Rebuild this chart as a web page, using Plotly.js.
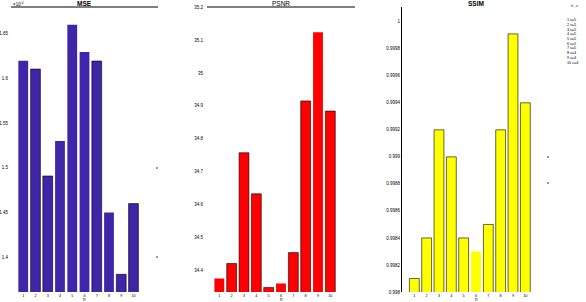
<!DOCTYPE html>
<html>
<head>
<meta charset="utf-8">
<script src="https://cdn.plot.ly/plotly-3.0.1.min.js"></script>
<style>html,body{margin:0;padding:0;background:#fff;}#chart{width:586px;height:302px;}</style>
</head>
<body>
<div id="chart"></div>
<script>
// ---- data ----
const nValues = [1, 2, 3, 4, 5, 6, 7, 8, 9, 10];
const nLabels = ['1', '2', '3', '4', '5', '6', '7', '8', '9', '10'];
const mseValues = [1.6197e-4, 1.6104e-4, 1.4907e-4, 1.5298e-4, 1.6601e-4, 1.6295e-4, 1.6194e-4, 1.4497e-4, 1.3806e-4, 1.4598e-4];
const psnrValues = [34.374, 34.420, 34.757, 34.632, 34.347, 34.359, 34.453, 34.915, 35.124, 34.884];
const ssimValues = [0.99810, 0.99840, 0.99920, 0.99900, 0.99840, 0.99830, 0.99850, 0.99920, 0.99991, 0.99940];
const mseTicks = [1.4, 1.45, 1.5, 1.55, 1.6, 1.65];
const mseTickLabels = ['1.4', '1.45', '1.5', '1.55', '1.6', '1.65'];
const psnrTicks = [34.4, 34.5, 34.6, 34.7, 34.8, 34.9, 35, 35.1, 35.2];
const psnrTickLabels = ['34.4', '34.5', '34.6', '34.7', '34.8', '34.9', '35', '35.1', '35.2'];
const ssimTicks = [0.998, 0.9982, 0.9984, 0.9986, 0.9988, 0.999, 0.9992, 0.9994, 0.9996, 0.9998, 1];
const ssimTickLabels = ['0.998', '0.9982', '0.9984', '0.9986', '0.9988', '0.999', '0.9992', '0.9994', '0.9996', '0.9998', '1'];
const legendHeader = 'n , ε';
const legendLines = ['1 ε=5', '2 ε=5', '3 ε=5', '4 ε=5', '5 ε=5', '6 ε=5', '7 ε=5', '8 ε=4', '9 ε=4', '10 ε=4'];

// ---- styling ----
const W = 586, H = 302;
const mseEdge = [0, 1, 1, 0, 0, 0, 1, 0, 1, 1];
const psnrEdge = [0, 1, 1, 1, 1, 0, 1, 1, 0, 1];
const ssimEdge = [1, 1, 1, 1, 1, 0, 1, 1, 1, 1];
const px = v => v / W;
const py = v => 1 - v / H;
const yDom = [py(292), py(7)];
const font = {family: 'Liberation Sans, Arial, sans-serif', color: '#000'};

function bar(x, y, color, edge, xa, ya) {
  return {
    type: 'bar', x: x, y: y, width: 0.8, xaxis: xa, yaxis: ya,
    marker: {color: color, line: {color: '#000', width: edge.map(e => e ? 0.6 : 0)}},
    hoverinfo: 'x+y', showlegend: false
  };
}

const traces = [
  bar(nValues, mseValues.map(v => v * 1e4), 'rgb(62,38,168)', mseEdge, 'x', 'y'),
  bar(nValues, psnrValues, 'rgb(255,0,0)', psnrEdge, 'x2', 'y2'),
  bar(nValues, ssimValues, 'rgb(255,255,0)', ssimEdge, 'x3', 'y3')
];

function xAxis(dom, anchor) {
  return {
    domain: dom, anchor: anchor, range: [0, 12], tickmode: 'array', tickvals: nValues, ticktext: nLabels,
    ticks: '', ticklabelstandoff: 0,
    showgrid: false, zeroline: false, showline: false,
    tickfont: Object.assign({size: 3.8}, font), fixedrange: true
  };
}
function yAxis(range, tv, tt, anchor, showline) {
  return {
    domain: yDom, anchor: anchor, range: range, tickmode: 'array', tickvals: tv, ticktext: tt,
    ticks: '', showgrid: false, zeroline: false, showline: showline, linecolor: '#000', linewidth: 1.2,
    tickfont: Object.assign({size: 4.5}, font), fixedrange: true
  };
}

const titleFont = Object.assign({size: 6.5}, font);
const smallFont = Object.assign({size: 4.5}, font);
const legFont = Object.assign({size: 3.8}, font);
function note(text, x, y, f, xanchor) {
  return {text: text, x: px(x), y: py(y), xref: 'paper', yref: 'paper', xanchor: xanchor || 'center', yanchor: 'middle',
          borderpad: 0, showarrow: false, font: f};
}
const ann = [
  note('<b>MSE</b>', 84.5, 3.5, titleFont),
  note('PSNR', 281, 3.5, titleFont),
  note('<b>SSIM</b>', 476, 3.5, titleFont),
  note('×10<sup>-4</sup>', 18, 3.5, smallFont),
  note('n', 84.5, 299, smallFont),
  note('n', 281, 299, smallFont),
  note('n', 476, 299, smallFont),
  note(legendHeader, 570, 6, legFont, 'left')
];
legendLines.forEach((t, i) => {
  ann.push(note(t, 566, 20 + i * 4.75, legFont, 'left'));
});

const shapes = [
  {type: 'line', xref: 'paper', yref: 'paper', x0: px(11), x1: px(158), y0: py(7), y1: py(7), line: {color: '#000', width: 1}},
  {type: 'line', xref: 'paper', yref: 'paper', x0: px(207), x1: px(355), y0: py(7), y1: py(7), line: {color: '#000', width: 1}},
  {type: 'line', xref: 'paper', yref: 'paper', x0: px(156), x1: px(158), y0: py(168), y1: py(168), line: {color: '#000', width: 0.8}},
  {type: 'line', xref: 'paper', yref: 'paper', x0: px(156), x1: px(158), y0: py(257), y1: py(257), line: {color: '#000', width: 0.8}},
  {type: 'line', xref: 'paper', yref: 'paper', x0: px(547), x1: px(549), y0: py(157), y1: py(157), line: {color: '#000', width: 0.8}},
  {type: 'line', xref: 'paper', yref: 'paper', x0: px(547), x1: px(549), y0: py(183), y1: py(183), line: {color: '#000', width: 0.8}}
];

const layout = {
  width: W, height: H, margin: {l: 0, r: 0, t: 0, b: 0}, paper_bgcolor: '#fff', plot_bgcolor: 'rgba(0,0,0,0)',
  showlegend: false, font: font,
  xaxis: xAxis([px(11), px(158)], 'y'),
  yaxis: yAxis([1.3608, 1.6799], mseTicks, mseTickLabels, 'x', false),
  xaxis2: xAxis([px(207), px(355)], 'y2'),
  yaxis2: yAxis([34.333, 35.201], psnrTicks, psnrTickLabels, 'x2', false),
  xaxis3: xAxis([px(402), px(550)], 'y3'),
  yaxis3: yAxis([0.998, 1.000109], ssimTicks, ssimTickLabels, 'x3', true),
  annotations: ann, shapes: shapes
};
layout.yaxis.ticklabelstandoff = 2;
layout.yaxis2.ticklabelstandoff = 3;
layout.yaxis3.ticklabelstandoff = 0;

Plotly.newPlot('chart', traces, layout, {displayModeBar: false, staticPlot: true});
</script>
</body>
</html>
